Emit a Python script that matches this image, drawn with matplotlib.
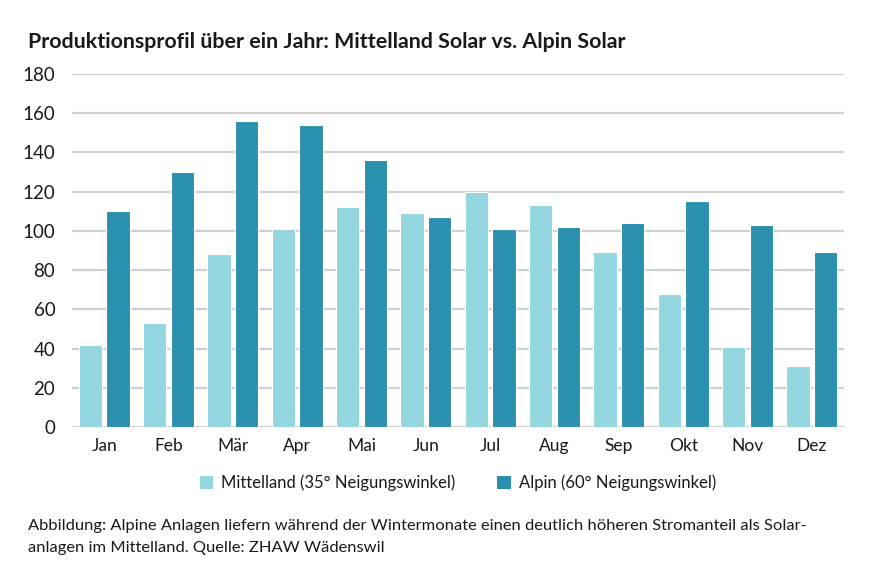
import matplotlib
matplotlib.use("Agg")
import matplotlib.pyplot as plt
import numpy as np
from matplotlib.patches import Patch

months = ["Jan", "Feb", "Mär", "Apr", "Mai", "Jun", "Jul", "Aug", "Sep", "Okt", "Nov", "Dez"]
mittelland = [42, 53, 88, 101, 112, 109, 120, 113, 89, 68, 41, 31]
alpin = [110, 130, 156, 154, 136, 107, 101, 102, 104, 115, 103, 89]
yticks = [0, 20, 40, 60, 80, 100, 120, 140, 160, 180]

c_light = "#93D6DF"
c_dark = "#2B90AE"
grid_c = "#D0D0CC"
txt = "#1a1a1a"

plt.rcParams['font.family'] = ['Lato', 'DejaVu Sans']

fig = plt.figure(figsize=(8.72, 5.78), dpi=100)
ax = fig.add_axes([72/872, 1-427/578, (844-72)/872, (427-74)/578])

x = np.arange(len(months))
w = 0.36
off = 0.215
ax.bar(x - off, mittelland, width=w, color=c_light, edgecolor="white", linewidth=0.8, zorder=3)
ax.bar(x + off, alpin, width=w, color=c_dark, edgecolor="white", linewidth=0.8, zorder=3)

ax.set_xlim(-0.5, len(months) - 0.5)
ax.set_ylim(0, 180)
ax.set_yticks(yticks)
ax.set_yticklabels([str(v) for v in yticks], fontsize=13.5, color=txt)
ax.set_xticks(x)
ax.set_xticklabels(months, fontsize=12.5, color=txt)
ax.tick_params(axis='both', length=0)
ax.tick_params(axis='y', pad=12)
ax.tick_params(axis='x', pad=8)
ax.yaxis.grid(True, color=grid_c, linewidth=1.6, zorder=0)
ax.set_axisbelow(True)
for s in ax.spines.values():
    s.set_visible(False)

fig.text(28/872, 1-42/578, "Produktionsprofil über ein Jahr: Mittelland Solar vs. Alpin Solar",
         fontsize=15.4, fontweight='bold', color=txt, va='center', ha='left')

handles = [Patch(facecolor=c_light, edgecolor='none', label="Mittelland (35° Neigungswinkel)"),
           Patch(facecolor=c_dark, edgecolor='none', label="Alpin (60° Neigungswinkel)")]
fig.legend(handles=handles, loc='center', bbox_to_anchor=(458/872, 1-483/578), ncol=2,
           frameon=False, fontsize=12, handlelength=0.8, handleheight=0.8,
           handletextpad=0.5, columnspacing=2.5, labelcolor=txt)

fig.text(28/872, 1-526/578, "Abbildung: Alpine Anlagen liefern während der Wintermonate einen deutlich höheren Stromanteil als Solar-",
         fontsize=11.85, color=txt, va='center', ha='left')
fig.text(28/872, 1-548/578, "anlagen im Mittelland. Quelle: ZHAW Wädenswil",
         fontsize=11.85, color=txt, va='center', ha='left')

fig.savefig("out.png", dpi=100)
